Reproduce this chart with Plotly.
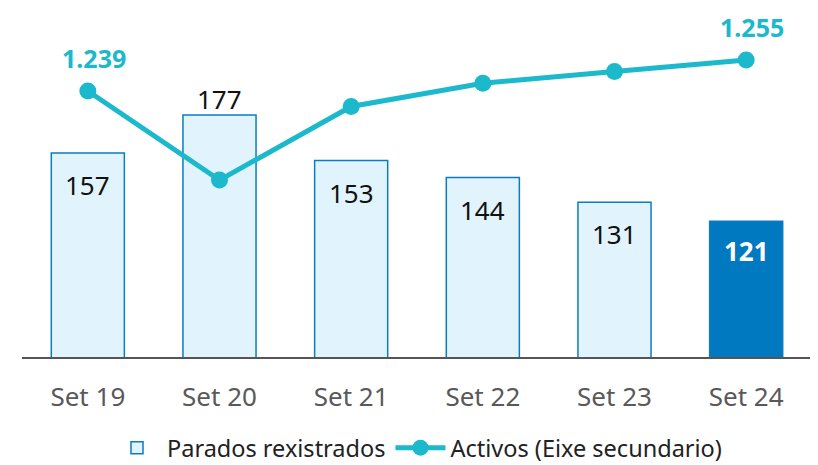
import plotly.graph_objects as go

categories = ["Set 19", "Set 20", "Set 21", "Set 22", "Set 23", "Set 24"]
parados = [157, 177, 153, 144, 131, 121]
activos = [1239, 1193, 1231, 1243, 1249, 1255]
bar_names = "Parados rexistrados"
line_names = "Activos (Eixe secundario)"

light_fill = "#e1f3fd"
edge = "#0a7cc4"
dark = "#0079c1"
teal = "#1bb9cb"

bar_colors = [light_fill] * (len(parados) - 1) + [dark]

fig = go.Figure()
fig.add_trace(go.Bar(
    x=categories, y=parados, name=bar_names,
    marker=dict(color=bar_colors, line=dict(color=edge, width=1.5)),
    width=0.555, yaxis="y",
))
fig.add_trace(go.Scatter(
    x=categories, y=activos, name=line_names, yaxis="y2",
    mode="lines+markers",
    line=dict(color=teal, width=5),
    marker=dict(color=teal, size=17),
))

# bar value labels
bar_shift = [-32, 16, -32, -32, -32, -30]
for i, (c, v) in enumerate(zip(categories, parados)):
    last = i == len(parados) - 1
    fig.add_annotation(
        x=c, y=v, xref="x", yref="y", text=f"<b>{v}</b>" if last else str(v),
        showarrow=False, yshift=bar_shift[i], yanchor="middle",
        font=dict(size=26, color="white" if last else "#111111", family="Noto Sans"),
    )

# line labels (first and last)
for i, ys in [(0, 33), (len(activos) - 1, 33)]:
    txt = f"{activos[i]:,}".replace(",", ".")
    fig.add_annotation(
        x=categories[i], y=activos[i], xref="x", yref="y2", text=f"<b>{txt}</b>",
        showarrow=False, yshift=ys, xshift=6, yanchor="middle",
        font=dict(size=25, color=teal, family="Noto Sans"),
    )

fig.update_layout(
    width=818, height=465,
    margin=dict(l=14, r=14, t=2, b=116),
    plot_bgcolor="white", paper_bgcolor="white",
    separators=",.",
    bargap=0.445,
    font=dict(family="Noto Sans", color="#222222"),
    xaxis=dict(
        showline=True, linecolor="#555555", linewidth=2,
        ticks="", tickfont=dict(size=26, color="#595959"),
        ticklabelstandoff=16,
        showgrid=False,
    ),
    yaxis=dict(range=[49.6, 232.2], visible=False, showgrid=False, zeroline=False),
    yaxis2=dict(range=[1101.7, 1280.8], overlaying="y", side="right",
                visible=False, showgrid=False, zeroline=False),
    legend=dict(
        orientation="h", x=0.5, xanchor="center", y=-0.262, yanchor="middle",
        font=dict(size=23.5, color="#222222"), itemwidth=50,
    ),
    showlegend=True,
)

fig.write_html("out.html")
